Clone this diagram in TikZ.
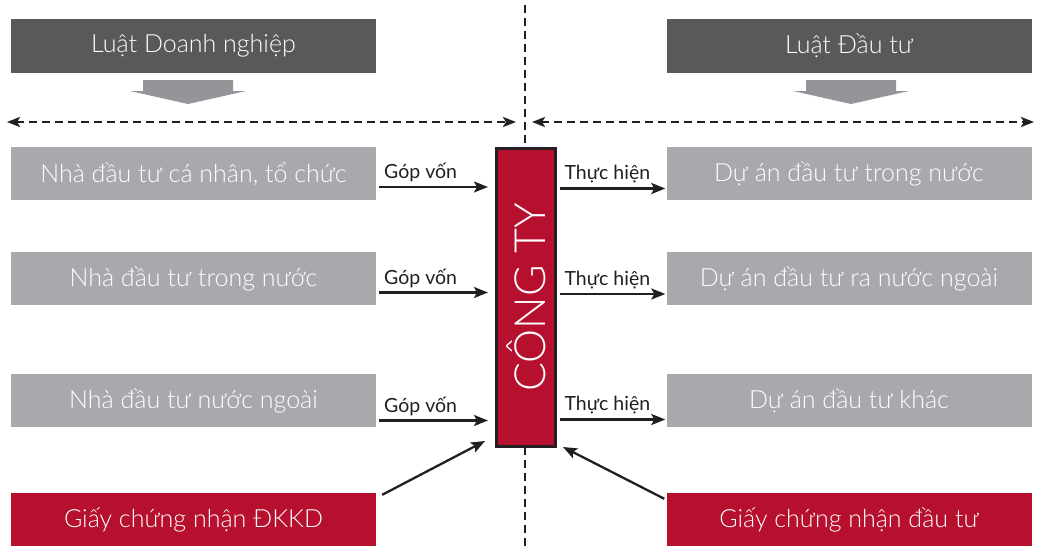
\documentclass[tikz,border=0pt]{standalone}
\usepackage{fontspec}
\setmainfont{Lato Light}
\newfontfamily\tagfont{Lato}
\usetikzlibrary{arrows.meta,calc}
\definecolor{lawgray}{HTML}{58595B}
\definecolor{boxgray}{HTML}{A7A9AC}
\definecolor{arrowgray}{HTML}{939598}
\definecolor{certred}{HTML}{B70F2E}
\definecolor{inkdark}{HTML}{231F20}
\begin{document}
\begin{tikzpicture}[x=1pt,y=-1pt,
  panel/.style={minimum width=365pt,minimum height=53pt,inner sep=0pt,
    text=white,font=\fontsize{25}{28}\selectfont},
  lawbox/.style={panel,fill=lawgray},
  infobox/.style={panel,fill=boxgray},
  certbox/.style={panel,fill=certred},
  conn/.style={draw=inkdark,line width=2.3pt,
    -{Stealth[length=14pt,width=11pt,inset=3pt]}},
  tag/.style={font=\tagfont\fontsize{19.5}{22}\selectfont,text=inkdark,inner sep=1pt},
  divider/.style={draw=inkdark,line width=2.8pt,dash pattern=on 8pt off 5pt},
  bigarrow/.style={fill=arrowgray,draw=none}]
\useasboundingbox (0,0) rectangle (1038,551);

% law headers
\node[lawbox] (lawL) at (193.5,46) {Luật Doanh nghiệp};
\node[lawbox] (lawR) at (849,46) {Luật Đầu tư};

% broad down arrows under the headers
\fill[bigarrow] (143,80) -- (233,80) -- (233,91) -- (246,91) -- (188,104)
  -- (130,91) -- (143,91) -- cycle;
\fill[bigarrow] (806,80) -- (896,80) -- (896,91) -- (909,91) -- (851,104)
  -- (793,91) -- (806,91) -- cycle;

% dividers
\coordinate (topC) at (525,5);
\coordinate (botC) at (525,551);
\draw[divider] (topC) -- (botC);
\coordinate (hL1) at (7,122);
\coordinate (hL2) at (516,122);
\coordinate (hR1) at (532,122);
\coordinate (hR2) at (1034,122);
\draw[divider,{Stealth[length=13pt,width=10pt,inset=3pt]}-{Stealth[length=13pt,width=10pt,inset=3pt]}] (hL1) -- (hL2);
\draw[divider,{Stealth[length=13pt,width=10pt,inset=3pt]}-{Stealth[length=13pt,width=10pt,inset=3pt]}] (hR1) -- (hR2);

% investors
\node[infobox] (invA) at (193.5,173.5) {Nhà đầu tư cá nhân, tổ chức};
\node[infobox] (invB) at (193.5,278.5) {Nhà đầu tư trong nước};
\node[infobox] (invC) at (193.5,400.5) {Nhà đầu tư nước ngoài};

% projects
\node[infobox] (prjA) at (849,173.5) {Dự án đầu tư trong nước};
\node[infobox] (prjB) at (849,278.5) {Dự án đầu tư ra nước ngoài};
\node[infobox] (prjC) at (849,400.5) {Dự án đầu tư khác};

% certificates
\node[certbox] (certL) at (193.5,519.5) {Giấy chứng nhận ĐKKD};
\node[certbox] (certR) at (849,519.5) {Giấy chứng nhận đầu tư};

% the company
\node[draw=inkdark,line width=3pt,fill=certred,minimum width=59pt,
  minimum height=298pt,inner sep=0pt] (cong) at (526,297.5) {};
\node[rotate=90,text=white,font=\fontsize{43}{45}\selectfont,inner sep=0pt]
  (congT) at (cong.center) {CÔNG TY};

% anchor points of the horizontal connectors
\coordinate (gA) at ([xshift=3pt,yshift=-13.5pt]invA.east);
\coordinate (gB) at ([xshift=3pt,yshift=-14pt]invB.east);
\coordinate (gC) at ([xshift=3pt,yshift=-20pt]invC.east);
\coordinate (tA) at ([xshift=-1pt,yshift=-15pt]prjA.west);
\coordinate (tB) at ([xshift=-1pt,yshift=-15.5pt]prjB.west);
\coordinate (tC) at ([xshift=-1pt,yshift=-19pt]prjC.west);

% capital contributions
\draw[conn] (gA) -- ($(cong.west |- gA)+(-7,0)$) node[tag,pos=0.38,above=3pt] {Góp vốn};
\draw[conn] (gB) -- ($(cong.west |- gB)+(-7,0)$) node[tag,pos=0.38,above=3pt] {Góp vốn};
\draw[conn] (gC) -- ($(cong.west |- gC)+(-7,0)$) node[tag,pos=0.38,above=3pt] {Góp vốn};

% implementations
\draw[conn] ($(cong.east |- tA)+(3,0)$) -- (tA) node[tag,pos=0.45,above=3pt] {Thực hiện};
\draw[conn] ($(cong.east |- tB)+(3,0)$) -- (tB) node[tag,pos=0.45,above=3pt] {Thực hiện};
\draw[conn] ($(cong.east |- tC)+(3,0)$) -- (tC) node[tag,pos=0.45,above=3pt] {Thực hiện};

% certificates feeding the company
\draw[conn] ([xshift=6pt,yshift=-2pt]certL.north east) -- ([xshift=-10pt,yshift=7pt]cong.south west);
\draw[conn] ([xshift=-2pt,yshift=-6pt]certR.north west) -- ([xshift=6pt,yshift=1pt]cong.south east);
\end{tikzpicture}
\end{document}
